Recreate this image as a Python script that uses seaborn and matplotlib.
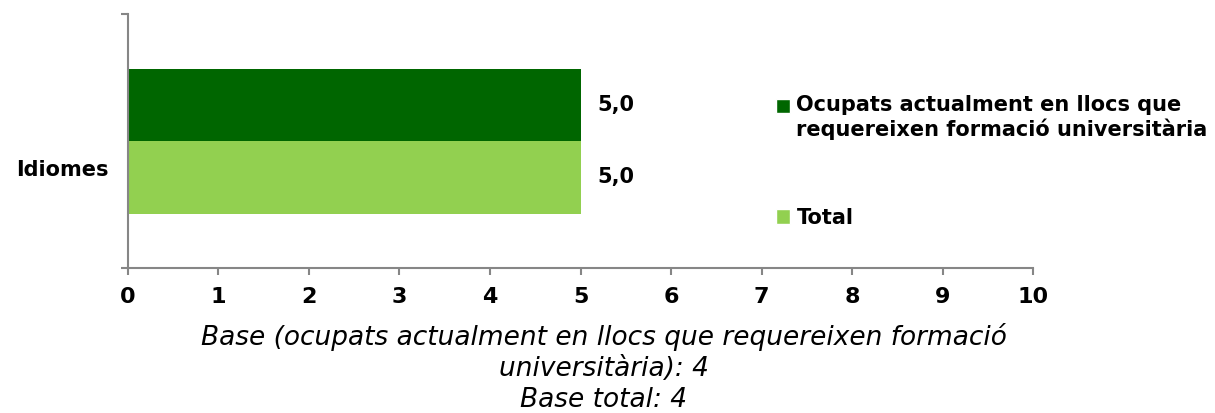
import matplotlib
matplotlib.use("Agg")
import matplotlib.pyplot as plt
import matplotlib.transforms as mtransforms
import seaborn as sns
import pandas as pd
from matplotlib.patches import Patch, Rectangle
from matplotlib.legend_handler import HandlerPatch

# dades
categories = ["Idiomes"]
series = ["Ocupats actualment en llocs que\nrequereixen formació universitària", "Total"]
ocupats = [5.0]
total = [5.0]
colors = ["#006600", "#92D050"]
xticks = list(range(0, 11))
caption = ("Base (ocupats actualment en llocs que requereixen formació\n"
           "universitària): 4\nBase total: 4")

df = pd.DataFrame({
    "categoria": categories * 2,
    "serie": [series[0]] * len(categories) + [series[1]] * len(categories),
    "valor": ocupats + total,
})

sns.set_style("white")
plt.rcParams["font.family"] = ["DejaVu Sans"]
plt.rcParams["text.color"] = "black"
plt.rcParams["xtick.labelcolor"] = "black"
plt.rcParams["ytick.labelcolor"] = "black"

fig = plt.figure(figsize=(12.15, 4.13), dpi=100)
ax = fig.add_axes([0.1053, 0.351, 0.745, 0.615])

sns.barplot(data=df, x="valor", y="categoria", hue="serie", hue_order=series,
            palette=colors, width=0.571, saturation=1, legend=False,
            linewidth=0, edgecolor="none", ax=ax)

for cont in ax.containers:
    ax.bar_label(cont, labels=[f"{v:.1f}".replace(".", ",") for v in cont.datavalues],
                 padding=12, fontsize=15, fontweight="bold")

ax.set_xlim(0, 10)
ax.set_ylim(0.5, -0.5)
ax.set_xticks(xticks)
ax.set_xlabel("")
ax.set_ylabel("")

grey = "#868686"
for s in ["top", "right"]:
    ax.spines[s].set_visible(False)
for s in ["left", "bottom"]:
    ax.spines[s].set_color(grey)
    ax.spines[s].set_linewidth(1.5)

ax.tick_params(axis="x", direction="out", length=5, width=1.5, color=grey,
               labelsize=16, pad=9, bottom=True)
ax.tick_params(axis="y", which="major", length=0, labelsize=15, pad=14)
ax.set_yticks([-0.5, 0.5], minor=True)
ax.tick_params(axis="y", which="minor", direction="out", length=5, width=1.5, color=grey, left=True)
for lab in ax.get_xticklabels() + ax.get_yticklabels():
    lab.set_fontweight("bold")
# Excel deixa l'etiqueta de categoria una mica per sota del centre
shift = mtransforms.ScaledTranslation(0, -0.27, fig.dpi_scale_trans)
for lab in ax.get_yticklabels():
    lab.set_transform(lab.get_transform() + shift)


def top_patch(legend, orig_handle, xdescent, ydescent, width, height, fontsize):
    # quadrat alineat amb la primera línia del text
    return Rectangle((-xdescent, -ydescent + 0.58 * fontsize), width, height)


handles = [Patch(facecolor=c) for c in colors]
ax.legend(handles, series, loc="upper left", bbox_to_anchor=(776 / 1215, 1 - 95 / 413),
          bbox_transform=fig.transFigure, frameon=False,
          handler_map={handles[0]: HandlerPatch(patch_func=top_patch)},
          prop={"size": 15, "weight": "bold"}, handlelength=0.68, handleheight=0.68,
          handletextpad=0.3, labelspacing=3.25, borderpad=0, borderaxespad=0)

fig.text(604 / 1215, 1 - 323 / 413, caption, ha="center", va="top",
         fontsize=19, fontstyle="italic", linespacing=1.26)

fig.savefig("out.png", dpi=100)
